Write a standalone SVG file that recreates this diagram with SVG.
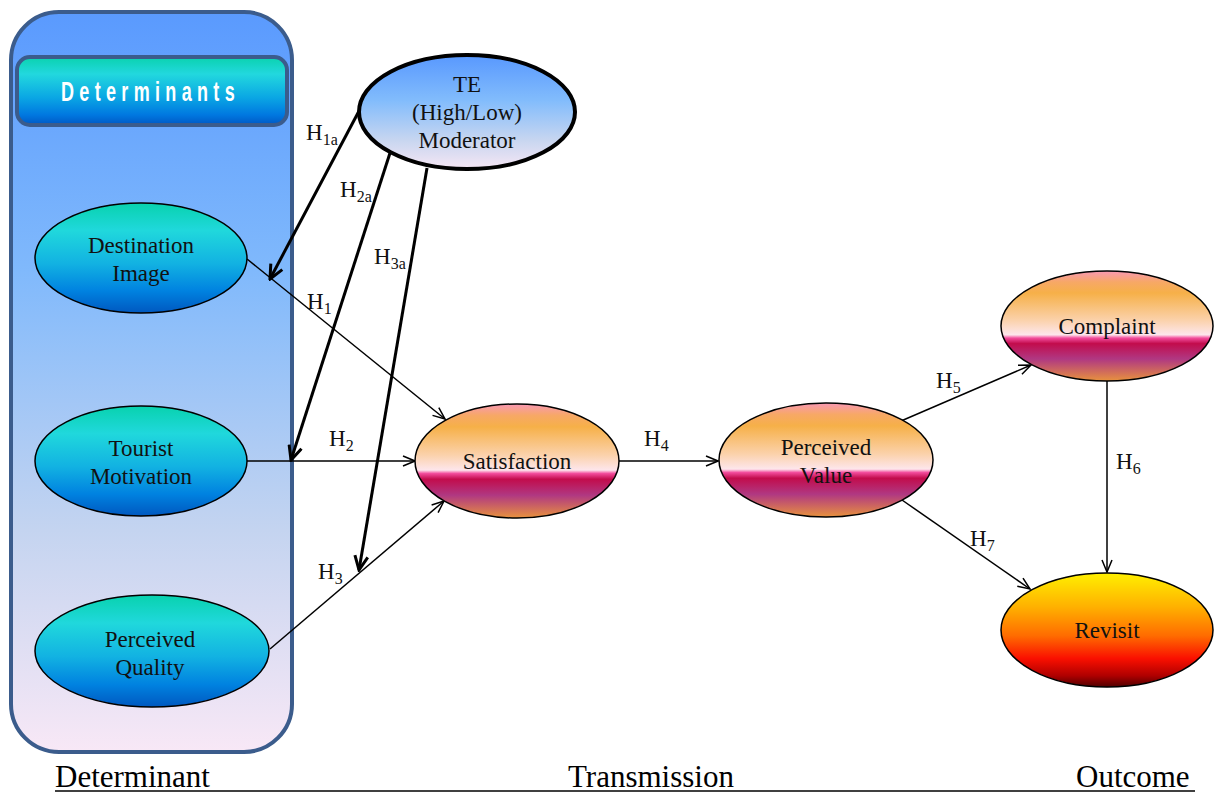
<svg xmlns="http://www.w3.org/2000/svg" width="1216" height="796" viewBox="0 0 1216 796">
<defs>
<linearGradient id="gBox" x1="0" y1="0" x2="0" y2="1">
<stop offset="0" stop-color="#5a9afe"/>
<stop offset="0.35" stop-color="#80b9fc"/>
<stop offset="0.7" stop-color="#c4d4f0"/>
<stop offset="1" stop-color="#f8e8f6"/>
</linearGradient>
<linearGradient id="gHead" x1="0" y1="0" x2="0" y2="1">
<stop offset="0" stop-color="#0ad2ae"/>
<stop offset="0.25" stop-color="#22d8de"/>
<stop offset="0.6" stop-color="#0aa6e4"/>
<stop offset="0.85" stop-color="#0078e0"/>
<stop offset="1" stop-color="#0058c4"/>
</linearGradient>
<linearGradient id="gCyan" x1="0" y1="0" x2="0" y2="1">
<stop offset="0" stop-color="#08d2ae"/>
<stop offset="0.25" stop-color="#20d8dc"/>
<stop offset="0.55" stop-color="#12b2e2"/>
<stop offset="0.8" stop-color="#0082e0"/>
<stop offset="1" stop-color="#0058c0"/>
</linearGradient>
<linearGradient id="gTE" x1="0" y1="0" x2="0" y2="1">
<stop offset="0" stop-color="#5898fe"/>
<stop offset="0.4" stop-color="#82bcfc"/>
<stop offset="0.75" stop-color="#c8d6f0"/>
<stop offset="1" stop-color="#f6e6f4"/>
</linearGradient>
<linearGradient id="gOr" x1="0" y1="0" x2="0" y2="1">
<stop offset="0" stop-color="#f898b4"/>
<stop offset="0.1" stop-color="#f7a866"/>
<stop offset="0.2" stop-color="#f6b048"/>
<stop offset="0.45" stop-color="#fbd2ac"/>
<stop offset="0.58" stop-color="#fde6ec"/>
<stop offset="0.61" stop-color="#f24c9c"/>
<stop offset="0.66" stop-color="#c20c4c"/>
<stop offset="0.8" stop-color="#b03882"/>
<stop offset="1" stop-color="#e8923e"/>
</linearGradient>
<linearGradient id="gRev" x1="0" y1="0" x2="0" y2="1">
<stop offset="0" stop-color="#fff000"/>
<stop offset="0.3" stop-color="#ffb000"/>
<stop offset="0.55" stop-color="#ff6c00"/>
<stop offset="0.75" stop-color="#fa1000"/>
<stop offset="0.9" stop-color="#b00000"/>
<stop offset="1" stop-color="#500000"/>
</linearGradient>
<marker id="aThin" viewBox="0 0 14 12" refX="13" refY="6" markerWidth="14" markerHeight="12" markerUnits="userSpaceOnUse" orient="auto">
<path d="M1,1 L13,6 L1,11" fill="none" stroke="#000" stroke-width="1.5"/>
</marker>
<marker id="aBold" viewBox="0 0 18 16" refX="16" refY="8" markerWidth="18" markerHeight="16" markerUnits="userSpaceOnUse" orient="auto">
<path d="M2,1.5 L16,8 L2,14.5" fill="none" stroke="#000" stroke-width="3"/>
</marker>
</defs>
<style>
.node{stroke:#000;stroke-width:1.5}
.t{font-family:"Liberation Serif","Times New Roman",serif;font-size:23px;fill:#111;text-anchor:middle}
.lbl{font-family:"Liberation Serif","Times New Roman",serif;font-size:23px;fill:#111}
.sub{font-size:16px}
.thin{stroke:#000;stroke-width:1.5;fill:none;marker-end:url(#aThin)}
.bold{stroke:#000;stroke-width:3;fill:none;marker-end:url(#aBold)}
.axis{font-family:"Liberation Serif","Times New Roman",serif;font-size:31px;fill:#000}
</style>

<g id="determinants-box">
<rect x="11" y="12" width="281" height="740" rx="48" ry="48" fill="url(#gBox)" stroke="#3b5c8c" stroke-width="4"/>
<rect x="17" y="57" width="270" height="68" rx="13" ry="13" fill="url(#gHead)" stroke="#3b5c8c" stroke-width="4"/>
<text x="61" y="101" font-family="'Liberation Sans',Arial,sans-serif" font-weight="bold" font-size="27" fill="#fff" letter-spacing="8" textLength="179" lengthAdjust="spacingAndGlyphs">Determinants</text>
</g>

<g id="connectors">
<line class="thin" x1="247" y1="259" x2="445" y2="419"/>
<line class="thin" x1="247" y1="461" x2="415" y2="461"/>
<line class="thin" x1="270" y1="649" x2="444" y2="501"/>
<line class="thin" x1="619" y1="461" x2="718" y2="461"/>
<line class="thin" x1="901" y1="421" x2="1031" y2="365"/>
<line class="thin" x1="902" y1="500" x2="1030" y2="589"/>
<line class="thin" x1="1107" y1="381" x2="1107" y2="572"/>
<line class="bold" x1="359" y1="111" x2="270" y2="279"/>
<line class="bold" x1="390" y1="153" x2="291" y2="460"/>
<line class="bold" x1="427" y1="168" x2="359" y2="570"/>
</g>

<g id="labels">
<text class="lbl" x="306" y="140">H<tspan class="sub" dy="5">1a</tspan></text>
<text class="lbl" x="340" y="197">H<tspan class="sub" dy="5">2a</tspan></text>
<text class="lbl" x="374" y="264">H<tspan class="sub" dy="5">3a</tspan></text>
<text class="lbl" x="307" y="309">H<tspan class="sub" dy="5">1</tspan></text>
<text class="lbl" x="329" y="446">H<tspan class="sub" dy="5">2</tspan></text>
<text class="lbl" x="318" y="579">H<tspan class="sub" dy="5">3</tspan></text>
<text class="lbl" x="644" y="446">H<tspan class="sub" dy="5">4</tspan></text>
<text class="lbl" x="936" y="388">H<tspan class="sub" dy="5">5</tspan></text>
<text class="lbl" x="1116" y="469">H<tspan class="sub" dy="5">6</tspan></text>
<text class="lbl" x="970" y="546">H<tspan class="sub" dy="5">7</tspan></text>
</g>

<g id="te">
<ellipse cx="467" cy="112" rx="108" ry="57" fill="url(#gTE)" stroke="#000" stroke-width="4"/>
<text class="t" x="467" y="92">TE</text>
<text class="t" x="467" y="120">(High/Low)</text>
<text class="t" x="467" y="148">Moderator</text>
</g>

<g id="destination-image">
<ellipse class="node" cx="141" cy="258" rx="106" ry="55" fill="url(#gCyan)"/>
<text class="t" x="141" y="253">Destination</text>
<text class="t" x="141" y="281">Image</text>
</g>

<g id="tourist-motivation">
<ellipse class="node" cx="141" cy="461" rx="106" ry="55" fill="url(#gCyan)"/>
<text class="t" x="141" y="456">Tourist</text>
<text class="t" x="141" y="484">Motivation</text>
</g>

<g id="perceived-quality">
<ellipse class="node" cx="152" cy="651" rx="117" ry="56" fill="url(#gCyan)"/>
<text class="t" x="150" y="647">Perceived</text>
<text class="t" x="150" y="675">Quality</text>
</g>

<g id="satisfaction">
<ellipse class="node" cx="517" cy="461" rx="102" ry="57" fill="url(#gOr)"/>
<text class="t" x="517" y="469">Satisfaction</text>
</g>

<g id="perceived-value">
<ellipse class="node" cx="826" cy="460" rx="107" ry="57" fill="url(#gOr)"/>
<text class="t" x="826" y="455">Perceived</text>
<text class="t" x="826" y="483">Value</text>
</g>

<g id="complaint">
<ellipse class="node" cx="1107" cy="326" rx="106" ry="55" fill="url(#gOr)"/>
<text class="t" x="1107" y="334">Complaint</text>
</g>

<g id="revisit">
<ellipse class="node" cx="1107" cy="630" rx="106" ry="57" fill="url(#gRev)"/>
<text class="t" x="1107" y="638">Revisit</text>
</g>

<g id="axis">
<text class="axis" x="55" y="787">Determinant</text>
<text class="axis" x="568" y="787">Transmission</text>
<text class="axis" x="1076" y="787">Outcome</text>
<line x1="55" y1="791" x2="1195" y2="791" stroke="#000" stroke-width="1.5"/>
</g>
</svg>
